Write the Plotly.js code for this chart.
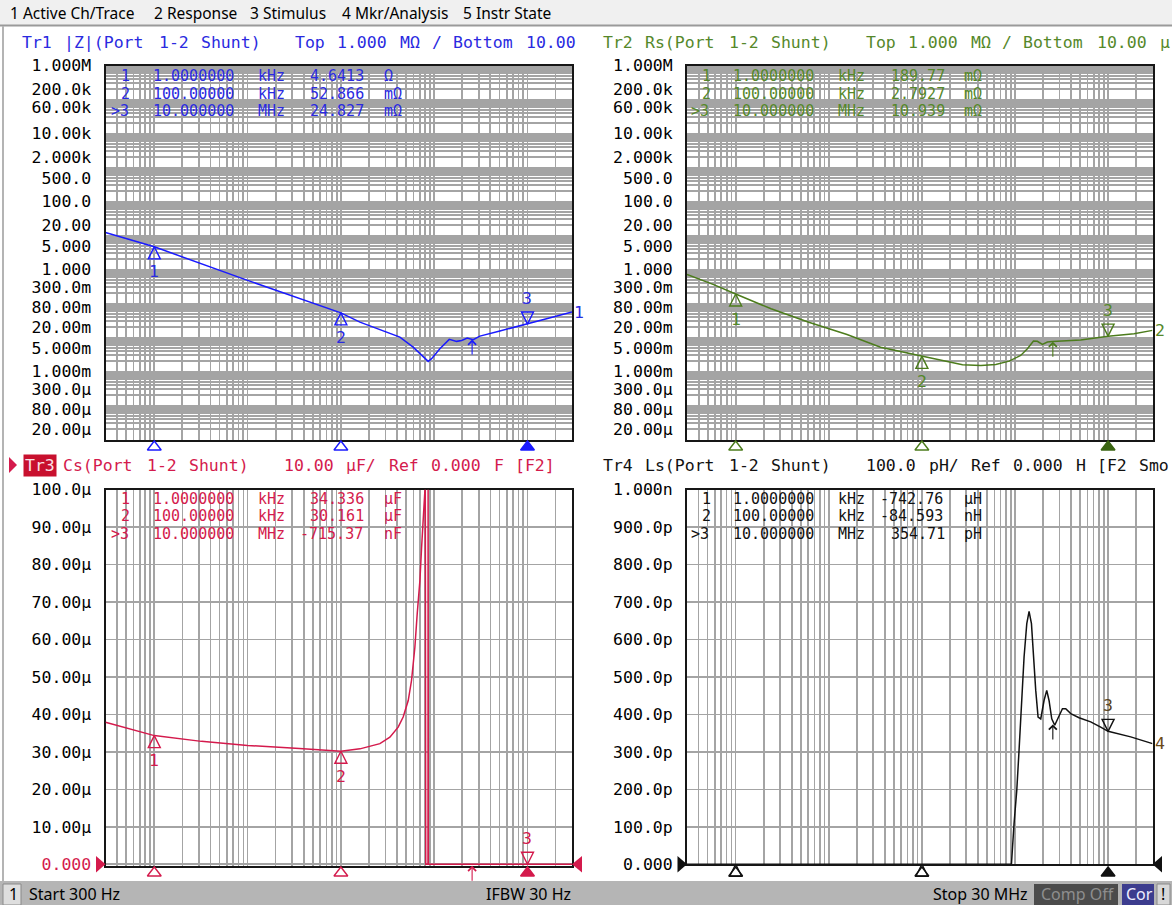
<!DOCTYPE html>
<html>
<head>
<meta charset="utf-8">
<script src="https://cdn.plot.ly/plotly-3.0.1.min.js"></script>
<style>
html,body{margin:0;padding:0;background:#ffffff;overflow:hidden;}
#chart{width:1172px;height:905px;}
</style>
</head>
<body>
<div id="chart"></div>
<script>
// ================= DATA =================
const startFreq = 300;      // Hz
const stopFreq = 30e6;      // Hz

// Tr1 |Z| (ohm)
const freqZ = [300, 1e3, 1e4, 1e5, 1.6e5, 2.96e5, 4.29e5, 5.95e5, 7.95e5, 8.63e5, 9.38e5, 1.15e6, 1.45e6, 1.74e6, 1.97e6, 2.26e6, 2.62e6, 3.09e6, 5.06e6, 1e7, 1.6e7, 3e7];
const valZ  = [12.2, 4.6413, 0.48, 0.052866, 0.0284, 0.0154, 0.0103, 0.0052, 0.00238, 0.00198, 0.00238, 0.00468, 0.0088, 0.0077, 0.0082, 0.0096, 0.0086, 0.0110, 0.0155, 0.024827, 0.0358, 0.056];

// Tr2 Rs (ohm)
const freqRs = [300, 580, 1e3, 2.4e3, 6.1e3, 1.57e4, 3.6e4, 1e5, 1.89e5, 2.73e5, 4.3e5, 6.22e5, 8.65e5, 1.15e6, 1.36e6, 1.58e6, 1.74e6, 1.97e6, 2.23e6, 2.53e6, 5.08e6, 1e7, 1.9e7, 3e7];
const valRs  = [0.72, 0.36, 0.18977, 0.070, 0.028, 0.0123, 0.0052, 0.0027927, 0.00188, 0.00158, 0.00151, 0.00161, 0.00202, 0.00297, 0.00468, 0.00783, 0.0077, 0.00626, 0.00733, 0.00767, 0.0084, 0.010939, 0.0129, 0.0162];

// Tr3 Cs (farad)
const freqCs = [300, 1e3, 3.2e3, 1e4, 3.6e4, 1e5, 1.6e5, 2.62e5, 3.35e5, 4.11e5, 4.65e5, 5.27e5, 5.72e5, 6.21e5, 6.58e5, 7.03e5, 7.33e5, 7.62e5, 7.95e5, 8.03e5, 8.12e5, 8.58e5, 8.61e5, 8.66e5, 1e6, 2e6, 5e6, 1e7, 3e7];
const valCs  = [37.9e-6, 34.336e-6, 32.8e-6, 31.7e-6, 30.9e-6, 30.161e-6, 30.8e-6, 32.2e-6, 33.9e-6, 36.6e-6, 39.3e-6, 43.7e-6, 49.1e-6, 57.9e-6, 66.9e-6, 75.7e-6, 84.6e-6, 93.5e-6, 99.7e-6, 400e-6, -400e-6, -400e-6, 400e-6, -400e-6, -60e-6, -9e-6, -2.9e-6, -715.37e-9, -80e-9];

// Tr4 Ls (henry)
const freqLs = [300, 1e3, 1e4, 1e5, 5e5, 8e5, 9.16e5, 9.77e5, 1.045e6, 1.106e6, 1.174e6, 1.252e6, 1.339e6, 1.417e6, 1.503e6, 1.578e6, 1.671e6, 1.77e6, 1.891e6, 2.052e6, 2.193e6, 2.322e6, 2.483e6, 2.673e6, 2.972e6, 3.234e6, 3.508e6, 3.971e6, 4.876e6, 6.506e6, 8.33e6, 1e7, 1.75e7, 3e7];
const valLs  = [-7.4e-3, -742.76e-6, -7.9e-6, -84.593e-9, -2.5e-9, -0.5e-9, -0.05e-9, 108e-12, 197e-12, 304e-12, 419e-12, 553e-12, 642e-12, 675e-12, 642e-12, 553e-12, 464e-12, 393e-12, 388e-12, 437e-12, 464e-12, 437e-12, 388e-12, 371e-12, 397e-12, 415e-12, 415e-12, 402e-12, 391e-12, 380e-12, 366e-12, 354.71e-12, 340e-12, 322e-12];

// Markers
const mkFreq   = [1e3, 1e5, 1e7];
const mkLabels = ['1', '2', '3'];
const mkPrefix = [' 1', ' 2', '>3'];
const mkFreqText = ['1.0000000 kHz', '100.00000 kHz', '10.000000 MHz'];
const mkZ  = [4.6413, 0.052866, 0.024827];
const mkRs = [0.18977, 0.0027927, 0.010939];
const mkCs = [34.336e-6, 30.161e-6, -715.37e-9];
const mkLs = [-742.76e-6, -84.593e-9, 354.71e-12];
const readZ  = ['4.6413 Ω', '52.866 mΩ', '24.827 mΩ'];
const readRs = ['189.77 mΩ', '2.7927 mΩ', '10.939 mΩ'];
const readCs = ['34.336 µF', '30.161 µF', '-715.37 nF'];
const readLs = ['-742.76 µH', '-84.593 nH', '354.71 pH'];

// analysis arrow (↑) frequency and trace values there
const arrowFreq = 2.55e6;
const arrowZ = 0.0087, arrowRs = 0.0075, arrowLs = 373e-12;

// Tick labels
const logTickVals = [1e6, 2e5, 6e4, 1e4, 2e3, 500, 100, 20, 5, 1, 0.3, 0.08, 0.02, 0.005, 0.001, 3e-4, 8e-5, 2e-5];
const logTickText = ['1.000M','200.0k','60.00k','10.00k','2.000k','500.0','100.0','20.00','5.000','1.000','300.0m','80.00m','20.00m','5.000m','1.000m','300.0µ','80.00µ','20.00µ'];
const csTickVals = [0, 10e-6, 20e-6, 30e-6, 40e-6, 50e-6, 60e-6, 70e-6, 80e-6, 90e-6, 100e-6];
const csTickText = ['0.000','10.00µ','20.00µ','30.00µ','40.00µ','50.00µ','60.00µ','70.00µ','80.00µ','90.00µ','100.0µ'];
const lsTickVals = [0, 100e-12, 200e-12, 300e-12, 400e-12, 500e-12, 600e-12, 700e-12, 800e-12, 900e-12, 1e-9];
const lsTickText = ['0.000','100.0p','200.0p','300.0p','400.0p','500.0p','600.0p','700.0p','800.0p','900.0p','1.000n'];
const logBottom = 10e-6, logTop = 1e6;   // Top 1.000 MΩ / Bottom 10.00 µΩ
const csTop = 100e-6, lsTop = 1e-9;      // 10 divisions

// header texts
const head1 = 'Tr1 |Z|(Port 1-2 Shunt)   Top 1.000 MΩ / Bottom 10.00';
const head2 = 'Tr2 Rs(Port 1-2 Shunt)   Top 1.000 MΩ / Bottom 10.00 µ';
const head3 = 'Cs(Port 1-2 Shunt)   10.00 µF/ Ref 0.000 F [F2]';
const head4 = 'Tr4 Ls(Port 1-2 Shunt)   100.0 pH/ Ref 0.000 H [F2 Smo';

// ================= STYLE / LAYOUT =================
const W = 1172, H = 905;
const MONO = 'DejaVu Sans Mono', SANS = 'Noto Sans';
const FS = 16.5, RFS = 15, PITCH = 10.5;
const GRID = '#a4a4a4', FRAME = '#161616';
const BLUE = '#1a1aff', BLUE_T = '#2a2ae0';
const GREEN = '#4c7c1c', GREEN_T = '#55882a', GREEN_D = '#3a6412';
const RED = '#d41a4c', BLACK = '#111111';

const P1 = {L:105.5, R:572,    T:65.5,  B:439.5};
const P2 = {L:687,   R:1152.5, T:65.5,  B:439.5};
const P3 = {L:105.5, R:572,    T:489.5, B:865.8};
const P4 = {L:687,   R:1152.5, T:489.5, B:864.3};
const csBottom = -0.4e-6, lsBottom = 0;

const nb = s => s.replace(/ /g, '\u00a0');
const clamp = (v, lo, hi) => Math.min(hi, Math.max(lo, v));
const xRange = [Math.log10(startFreq), Math.log10(stopFreq)];

function logGrid(lo, hi) {
  const v = [];
  for (let e = -6; e <= 8; e++) for (let k = 1; k <= 9; k++) {
    const x = k * Math.pow(10, e);
    if (x >= lo * 0.9999 && x <= hi * 1.0001) v.push(x);
  }
  return v;
}
const xGrid = logGrid(startFreq, stopFreq);
const yGridLog = logGrid(logBottom, logTop);
const yGridLogText = yGridLog.map(v => {
  const i = logTickVals.findIndex(l => Math.abs(l - v) <= 1e-6 * l);
  return i >= 0 ? logTickText[i] : '';
});

function xAx(p, anchor, gw, layer) {
  return {type:'log', domain:[p.L/W, p.R/W], range:xRange, anchor, tickmode:'array', tickvals:xGrid,
    showticklabels:false, ticks:'', showgrid:true, gridcolor:GRID, gridwidth:gw, zeroline:false,
    showline:true, mirror:true, linecolor:FRAME, linewidth:2, fixedrange:true, layer};
}
function yAx(p, anchor, type, range, tv, tt, gw, layer) {
  return {type, domain:[1-p.B/H, 1-p.T/H], range, anchor, tickmode:'array', tickvals:tv, ticktext:tt,
    ticks:'outside', ticklen:9, tickcolor:'rgba(0,0,0,0)', tickfont:{family:MONO, size:FS, color:'#000'},
    showgrid:true, gridcolor:GRID, gridwidth:gw, zeroline:false, showline:true, mirror:true,
    linecolor:FRAME, linewidth:2, fixedrange:true, layer};
}
function stripX(p, anchor) {
  return {type:'log', domain:[p.L/W, p.R/W], range:xRange, anchor, visible:false, showgrid:false, zeroline:false, fixedrange:true};
}
function stripY(T, B, anchor) {
  return {domain:[1-B/H, 1-T/H], range:[0,1], anchor, visible:false, showgrid:false, zeroline:false, fixedrange:true};
}

const csText = csTickText.map((t,i) => i === 0 ? '<span style="color:' + RED + '">' + t + '</span>' : t);

// ================= TRACES =================
const traces = [];
const base = {type:'scatter', hoverinfo:'skip', showlegend:false};
traces.push(Object.assign({}, base, {x:freqZ, y:valZ, xaxis:'x', yaxis:'y', mode:'lines', line:{color:BLUE, width:1.5}}));
traces.push(Object.assign({}, base, {x:freqRs, y:valRs, xaxis:'x2', yaxis:'y2', mode:'lines', line:{color:GREEN, width:1.5}}));
traces.push(Object.assign({}, base, {x:freqCs, y:valCs.map(v => clamp(v, 0, csTop)), xaxis:'x3', yaxis:'y3', mode:'lines', line:{color:RED, width:1.5}}));
traces.push(Object.assign({}, base, {x:freqLs, y:valLs.map(v => clamp(v, lsBottom, lsTop)), xaxis:'x4', yaxis:'y4', mode:'lines', line:{color:BLACK, width:1.5}}));

const pinSym = ['arrow-up-open', 'arrow-up-open', 'arrow-down-open'];
function pins(xa, ya, vals, lo, hi, color) {
  return Object.assign({}, base, {x:mkFreq, y:vals.map(v => clamp(v, lo, hi)), xaxis:xa, yaxis:ya, mode:'markers', cliponaxis:false,
    marker:{symbol:pinSym, size:12, color, line:{color, width:1.4}}});
}
traces.push(pins('x', 'y', mkZ, logBottom, logTop, BLUE));
traces.push(pins('x2', 'y2', mkRs, logBottom, logTop, GREEN));
traces.push(pins('x3', 'y3', mkCs, 0, csTop, RED));
traces.push(pins('x4', 'y4', mkLs, 0, lsTop, BLACK));

const stripSym = ['triangle-up-open', 'triangle-up-open', 'triangle-up'];
function strip(xa, ya, color, fill) {
  return Object.assign({}, base, {x:mkFreq, y:[0.5,0.5,0.5], xaxis:xa, yaxis:ya, mode:'markers', cliponaxis:false,
    marker:{symbol:stripSym, size:12, color:[color, color, fill], line:{color:[color, color, fill], width:1.4}}});
}
traces.push(strip('x5', 'y5', BLUE, BLUE));
traces.push(strip('x6', 'y6', GREEN, GREEN_D));
traces.push(strip('x7', 'y7', RED, RED));
traces.push(strip('x8', 'y8', BLACK, BLACK));

// ================= ANNOTATIONS =================
const ann = [];
function T(text, x, y, color, size, opts) {
  const o = {text:nb(text), x:x/W, y:1-y/H, xref:'paper', yref:'paper', xanchor:'left', yanchor:'middle',
    showarrow:false, borderpad:0, font:{family:MONO, size:size || FS, color}};
  return Object.assign(o, opts || {});
}
// monospaced line laid on the instrument's character pitch, one text per word
function monoLine(str, x0, y, color, size) {
  let i = 0;
  str.split(' ').forEach(w => {
    if (w.length) ann.push(T(w, x0 + i * PITCH, y, color, size));
    i += w.length + 1;
  });
}
function S(text, x, y, color, size, opts) {
  return Object.assign({text, x:x/W, y:1-y/H, xref:'paper', yref:'paper', xanchor:'left', yanchor:'middle',
    showarrow:false, font:{family:SANS, size:size || 15.5, color:color || '#000'}}, opts || {});
}
// headers
monoLine(head1, 21, 42, BLUE_T);
monoLine(head2, 602, 42, GREEN_T);
ann.push(T('Tr3', 23, 465, '#fbe0e6', FS, {bgcolor:'#c8102e', borderpad:1}));
monoLine(head3, 62, 465, RED);
monoLine(head4, 602, 465, BLACK);

// marker readouts
function row(i, read) { return mkPrefix[i] + '  ' + mkFreqText[i] + (read[i][0] === '-' ? ' ' : '  ') + read[i]; }
const rowTop = [76, 93.5, 111], rowBot = [498.5, 516, 533.5];
[0,1,2].forEach(i => {
  monoLine(row(i, readZ),  P1.L + 4, rowTop[i], BLUE_T, RFS);
  monoLine(row(i, readRs), P2.L + 3, rowTop[i], GREEN_T, RFS);
  monoLine(row(i, readCs), P3.L + 4, rowBot[i], RED, RFS);
  monoLine(row(i, readLs), P4.L + 3, rowBot[i], BLACK, RFS);
});

// pin numbers
function pinLabels(xa, ya, vals, lo, hi, isLog, color) {
  mkFreq.forEach((f, i) => {
    const above = (i === 2);
    if (!above && vals[i] < lo) return;
    const vc = clamp(vals[i], lo, hi);
    ann.push({xref:xa, yref:ya, x:Math.log10(f), y:isLog ? Math.log10(vc) : vc, text:mkLabels[i], showarrow:false,
      xanchor:'center', yanchor:'middle', yshift: above ? 26 : -25, font:{family:MONO, size:FS, color}});
  });
}
pinLabels('x', 'y', mkZ, logBottom, logTop, true, BLUE_T);
pinLabels('x2', 'y2', mkRs, logBottom, logTop, true, GREEN_T);
pinLabels('x3', 'y3', mkCs, 0, csTop, false, RED);
pinLabels('x4', 'y4', mkLs, 0, lsTop, false, '#5a4420');

// trace end labels
function endLabel(xa, ya, v, isLog, text, color) {
  ann.push({xref:xa, yref:ya, x:Math.log10(stopFreq), y:isLog ? Math.log10(v) : v, text, showarrow:false,
    xanchor:'left', yanchor:'middle', xshift:0, font:{family:MONO, size:FS, color}});
}
endLabel('x', 'y', valZ[valZ.length-1], true, '1', BLUE_T);
endLabel('x2', 'y2', valRs[valRs.length-1], true, '2', GREEN_T);
endLabel('x4', 'y4', valLs[valLs.length-1], false, '4', '#6a4a1a');

// analysis arrows
function upArrow(xa, ya, y, color) {
  ann.push({xref:xa, yref:ya, x:Math.log10(arrowFreq), y, text:'\u00a0', showarrow:true, ax:0, ay:19,
    arrowhead:4, arrowsize:1.4, arrowwidth:1.1, arrowcolor:color, standoff:0, font:{size:4}});
}
upArrow('x', 'y', Math.log10(arrowZ), BLUE);
upArrow('x2', 'y2', Math.log10(arrowRs), GREEN);
upArrow('x3', 'y3', csBottom, RED);
upArrow('x4', 'y4', arrowLs, BLACK);

// menu bar
ann.push(S('1 Active Ch/Trace', 8, 13));
ann.push(S('2 Response', 152, 13));
ann.push(S('3 Stimulus', 248, 13));
ann.push(S('4 Mkr/Analysis', 340, 13));
ann.push(S('5 Instr State', 461, 13));
// status bar
ann.push(S('1', 7, 894, '#000', 16));
ann.push(S('Start ' + startFreq + ' Hz', 27, 894, '#000', 16));
ann.push(S('IFBW 30 Hz', 484, 894, '#000', 16));
ann.push(S('Stop ' + (stopFreq/1e6) + ' MHz', 931, 894, '#000', 16));
ann.push(S('Comp Off', 1039, 894, '#8e8e8e', 16));
ann.push(S('Cor', 1124, 894, '#eeeeff', 16));
ann.push(S('!', 1159, 894, '#000', 16));

// ================= SHAPES (decoration) =================
const px = x => x / W, py = y => 1 - y / H;
function rect(x0, y0, x1, y1, fill, line, lw) {
  return {type:'rect', xref:'paper', yref:'paper', x0:px(x0), x1:px(x1), y0:py(y1), y1:py(y0),
    fillcolor:fill, line:{color:line || fill, width:lw || 0}, layer:'above'};
}
function tri(pts, color) {
  const d = 'M' + pts.map(p => px(p[0]) + ',' + py(p[1])).join('L') + 'Z';
  return {type:'path', xref:'paper', yref:'paper', path:d, fillcolor:color, line:{color, width:0}, layer:'above'};
}
function lineS(x0, y0, x1, y1, color, w) {
  return {type:'line', xref:'paper', yref:'paper', x0:px(x0), y0:py(y0), x1:px(x1), y1:py(y1), line:{color, width:w}, layer:'above'};
}
const shapes = [
  rect(0, 0, 1172, 25, '#f0f0f0'),
  lineS(0, 25.5, 1172, 25.5, '#9a9a9a', 2),
  lineS(3, 26, 3, 881, '#b4b4b4', 2),
  rect(0, 881, 1172, 905, '#b5b5b5'),
  rect(3, 884, 21, 905, '#dedede', '#8a8a8a', 1),
  rect(1034, 884, 1118, 905, '#4b4b4b'),
  rect(1122, 884, 1154, 905, '#3c3c8e'),
  rect(1157, 884, 1170, 905, '#d8d8d8', '#8a8a8a', 1),
  tri([[9,457],[17,465],[9,473]], RED),
  tri([[96,856],[105.5,864.3],[96,872.6]], RED),
  tri([[582,856],[572,864.3],[582,872.6]], RED),
  tri([[677.5,856],[687,864.3],[677.5,872.6]], BLACK),
  tri([[1162,856],[1152.5,864.3],[1162,872.6]], BLACK)
];

// ================= LAYOUT =================
const layout = {
  width:W, height:H, margin:{l:0, r:0, t:0, b:0}, paper_bgcolor:'#ffffff', plot_bgcolor:'#ffffff',
  showlegend:false, dragmode:false,
  xaxis:  xAx(P1, 'y', 1.8, 'above traces'),
  yaxis:  yAx(P1, 'x', 'log', [Math.log10(logBottom), Math.log10(logTop)], yGridLog, yGridLogText, 2, 'above traces'),
  xaxis2: xAx(P2, 'y2', 1.8, 'above traces'),
  yaxis2: yAx(P2, 'x2', 'log', [Math.log10(logBottom), Math.log10(logTop)], yGridLog, yGridLogText, 2, 'above traces'),
  xaxis3: xAx(P3, 'y3', 1.6, 'below traces'),
  yaxis3: yAx(P3, 'x3', 'linear', [csBottom, csTop], csTickVals, csText, 1.6, 'below traces'),
  xaxis4: xAx(P4, 'y4', 1.6, 'above traces'),
  yaxis4: yAx(P4, 'x4', 'linear', [lsBottom, lsTop], lsTickVals, lsTickText, 1.6, 'above traces'),
  xaxis5: stripX(P1, 'y5'), yaxis5: stripY(440, 454, 'x5'),
  xaxis6: stripX(P2, 'y6'), yaxis6: stripY(440, 454, 'x6'),
  xaxis7: stripX(P3, 'y7'), yaxis7: stripY(866, 880, 'x7'),
  xaxis8: stripX(P4, 'y8'), yaxis8: stripY(866, 880, 'x8'),
  annotations: ann,
  shapes: shapes
};

Plotly.newPlot('chart', traces, layout, {staticPlot:true, displayModeBar:false});
</script>
</body>
</html>
